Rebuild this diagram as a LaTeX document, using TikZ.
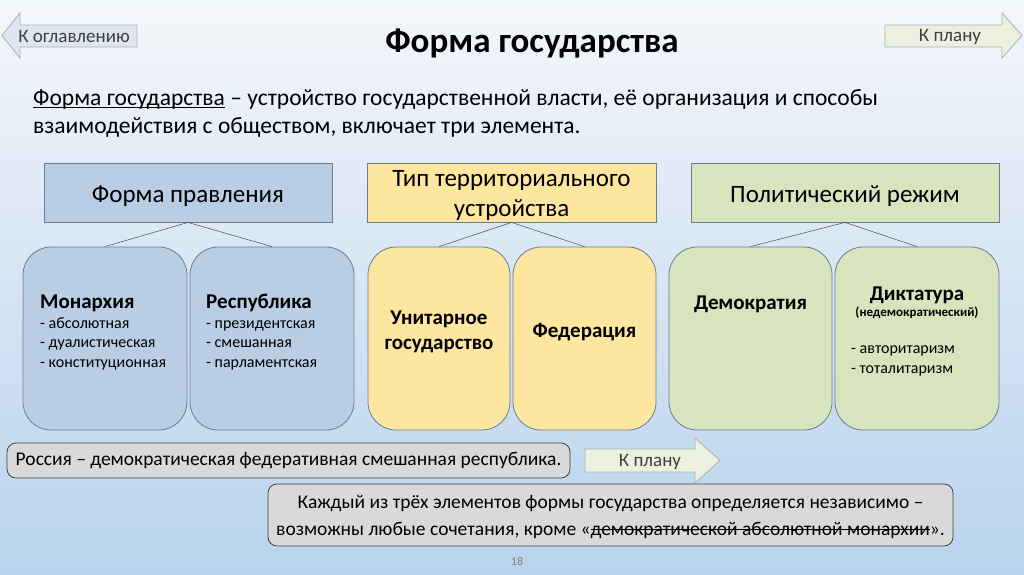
\documentclass[tikz,border=0pt]{standalone}
\usepackage{fontspec}
\setmainfont{Carlito}
\usetikzlibrary{positioning}
\definecolor{bgtop}{RGB}{244,246,250}
\definecolor{bgbot}{RGB}{184,211,237}
\definecolor{blfill}{RGB}{185,205,229}
\definecolor{yefill}{RGB}{253,230,160}
\definecolor{grfill}{RGB}{215,228,189}
\definecolor{edge}{RGB}{105,125,150}
\definecolor{notefill}{RGB}{217,217,217}
\definecolor{navblue}{RGB}{221,230,241}
\definecolor{navgreen}{RGB}{235,241,222}
\newcommand{\fs}[2]{\fontsize{#1}{#2}\selectfont}
\newsavebox{\strikebox}
\newcommand{\strikeout}[1]{\sbox\strikebox{#1}\rlap{\usebox\strikebox}\rule[0.27em]{\wd\strikebox}{0.06em}}
\newcommand{\uline}[1]{\sbox\strikebox{#1}\rlap{\usebox\strikebox}\rule[-0.12em]{\wd\strikebox}{0.05em}}
\tikzset{
  headbox/.style={draw=edge, line width=0.8pt, minimum height=59pt},
  headtext/.style={align=center, inner sep=0pt, font=\fs{25}{30}},
  leaf/.style={draw=edge, line width=0.8pt, rounded corners=28pt, minimum height=183pt},
  link/.style={draw=gray!60!black, line width=0.5pt},
  note/.style={draw=gray!50!black, line width=0.8pt, fill=notefill, rounded corners=9pt, inner xsep=2pt},
  nav/.style={draw=gray!60, line width=0.9pt},
  navtext/.style={font=\fs{19}{22}, text=black!75},
  leaftitle/.style={font=\bfseries\fs{21}{25}, align=center, inner sep=0pt},
  leaflist/.style={font=\fs{16}{19.5}, align=left, inner sep=0pt, anchor=north west}
}
\begin{document}
\begin{tikzpicture}[x=1pt,y=-1pt]
  \useasboundingbox (0,0) rectangle (1024,574);
  \shade[top color=bgtop, bottom color=bgbot] (0,0) rectangle (1024,574);

  % navigation arrows
  \draw[nav, fill=navblue] (137,25) -- (20,25) -- (20,13) -- (2,35.5) -- (20,58) -- (20,47) -- (137,47) -- cycle;
  \node[navtext] (back) at (74,36.5) {К оглавлению};
  \draw[nav, fill=navgreen] (885,25) -- (1002,25) -- (1002,13) -- (1022,35.5) -- (1002,58) -- (1002,47) -- (885,47) -- cycle;
  \node[navtext] (plantop) at (950,36.5) {К плану};

  % title and definition
  \node[font=\bfseries\fs{35}{40}] (title) at (532,43) {Форма государства};
  \node[anchor=north west, align=left, font=\fs{23.5}{28}, inner sep=0pt] (defn) at (33,89)
    {\uline{Форма государства} – устройство государственной власти, её организация и способы\\
     взаимодействия с обществом, включает три элемента.};

  % three elements
  \node[headbox, fill=blfill, minimum width=288pt] (rule) at (188,192.5) {};
  \node[headbox, fill=yefill, minimum width=289pt] (terr) at (511.5,192.5) {};
  \node[headbox, fill=grfill, minimum width=308pt] (regime) at (845,192.5) {};
  \node[headtext] (ruletxt) at (188,196) {Форма правления};
  \node[headtext] (terrtxt) at (511.5,195.5) {Тип территориального\\устройства};
  \node[headtext] (regimetxt) at (845,196) {Политический режим};

  \node[leaf, fill=blfill, minimum width=164pt] (mon) at (105,338.5) {};
  \node[leaf, fill=blfill, minimum width=164pt] (rep) at (272,338.5) {};
  \node[leaf, fill=yefill, minimum width=142pt] (uni) at (439,338.5) {};
  \node[leaf, fill=yefill, minimum width=143pt] (fed) at (584.5,338.5) {};
  \node[leaf, fill=grfill, minimum width=163pt] (dem) at (750.5,338.5) {};
  \node[leaf, fill=grfill, minimum width=164pt] (dic) at (917,338.5) {};

  \draw[link] (rule.south) -- (mon.north);
  \draw[link] (rule.south) -- (rep.north);
  \draw[link] (terr.south) -- (uni.north);
  \draw[link] (terr.south) -- (fed.north);
  \draw[link] (regime.south) -- (dem.north);
  \draw[link] (regime.south) -- (dic.north);

  \node[leaftitle, anchor=west] (montitle) at (40,303) {Монархия};
  \node[leaflist] (monlist) at (40,314.5) {\strut- абсолютная\\- дуалистическая\\- конституционная};
  \node[leaftitle, anchor=west] (reptitle) at (206,303) {Республика};
  \node[leaflist] (replist) at (206,314.5) {\strut- президентская\\- смешанная\\- парламентская};
  \node[leaftitle] (unititle) at (439,332) {Унитарное\\государство};
  \node[leaftitle] (fedtitle) at (584.5,332) {Федерация};
  \node[leaftitle] (demtitle) at (750.5,304) {Демократия};
  \node[leaftitle] (dictitle) at (917,295) {Диктатура};
  \node[font=\bfseries\fs{13}{15}, inner sep=0pt] (dicnote) at (917,313) {(недемократический)};
  \node[leaflist] (diclist) at (851,340) {\strut- авторитаризм\\- тоталитаризм};

  % bottom notes
  \node[note, minimum width=563pt, minimum height=35pt, font=\fs{19.5}{22}] (russia) at (288.5,460.5)
    {Россия – демократическая федеративная смешанная республика.};
  \draw[nav, fill=navgreen] (585,449) -- (695,449) -- (695,438) -- (720,460.5) -- (695,483) -- (695,472) -- (585,472) -- cycle;
  \node[navtext] (planbot) at (650,462) {К плану};
  \node[note, minimum width=685pt, minimum height=62pt] (indep) at (610.5,515) {};
  \node[align=center, inner sep=0pt, font=\fs{19.5}{27}] (indeptxt) at (610.5,517)
    {Каждый из трёх элементов формы государства определяется независимо –\\
     возможны любые сочетания, кроме «\strikeout{демократической абсолютной монархии}».};
  \node[font=\fs{12}{14}, text=gray] (page) at (517,561) {18};
\end{tikzpicture}
\end{document}
